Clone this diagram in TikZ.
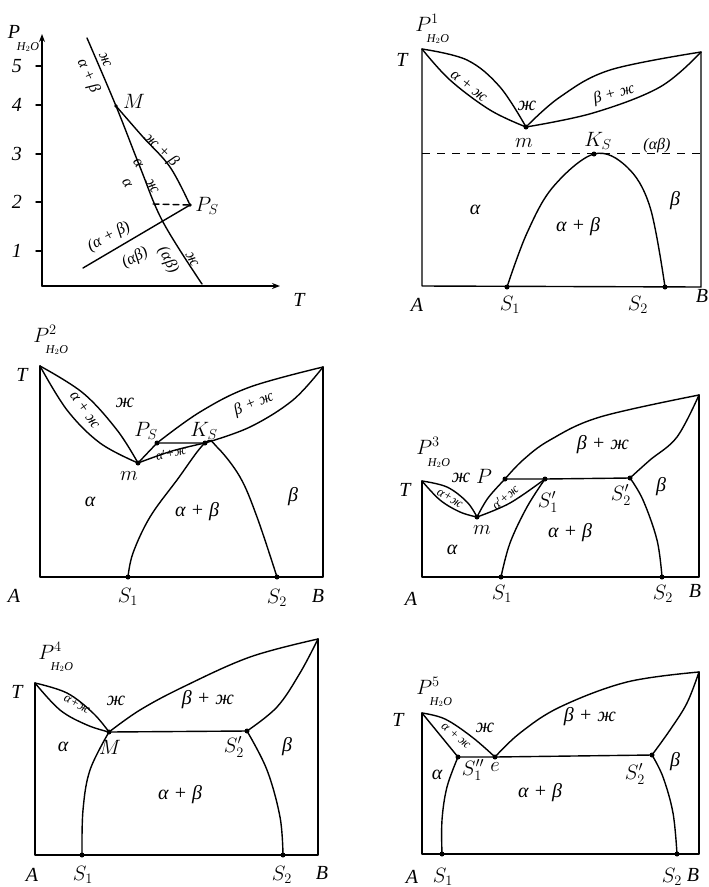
\documentclass[tikz,border=0pt]{standalone}
\usepackage{fontspec}
\setmainfont{Liberation Serif}
\usetikzlibrary{arrows.meta}
\begin{document}
\begin{tikzpicture}[x=1pt,y=-1pt,
  ln/.style={line width=1.4pt, line join=round, line cap=round},
  dotp/.style={circle, fill, inner sep=0pt, minimum size=5pt},
  lb/.style={font=\itshape\fontsize{20}{20}\selectfont, inner sep=0.5pt},
  ls/.style={font=\itshape\fontsize{16}{16}\selectfont, inner sep=0.5pt},
  lt/.style={font=\itshape\fontsize{13}{13}\selectfont, inner sep=0pt},
  sub/.style={font=\itshape\fontsize{12}{12}\selectfont, inner sep=0pt},
  arr/.style={ln, -{Stealth[length=8pt,width=6pt]}}]
\useasboundingbox (0,0) rectangle (709,887);

% ================= Panel 1 : P-T projection =================
\coordinate (O1) at (42,286);
\coordinate (Y1) at (42,34);
\coordinate (X1) at (280,286);
\draw[arr] (O1) -- (Y1);
\draw[arr] (O1) -- (X1);
\foreach \yy/\tt in {66/5,105/4,154/3,202/2,251/1}{
  \draw[ln] (36,\yy) -- (42,\yy);
  \node[lb] at (17,\yy) {\tt};
}
\node[lb] (p1) at (14,32) {P};
\node[sub] (p1s) at (28,47) {H$_2$O};
\node[lb] (t1) at (299,300) {T};
\coordinate (M1) at (116,106);
\coordinate (PS1) at (190,205);
\coordinate (top1) at (87,38);
\coordinate (bot1) at (202,284);
\coordinate (X1c) at (163,222);
\coordinate (end1) at (83,268);
\coordinate (dsh1) at (153,204);
\draw[ln] plot[smooth, tension=0.6] coordinates {(top1) (M1) (140,167) (X1c) (bot1)};
\draw[ln] plot[smooth, tension=0.6] coordinates {(M1) (143,137) (170,167) (PS1)};
\draw[ln] (PS1) -- (end1);
\draw[ln, dashed, dash pattern=on 6pt off 4pt] (dsh1) -- (PS1);
\fill (M1) circle (1.8pt);
\fill (PS1) circle (1.8pt);
\node[ls, rotate=-66] at (105,60) {ж};
\node[ls, rotate=-66] at (88,76) {α + β};
\node[lb] at (134,101) {$M$};
\node[ls, rotate=-45] at (161,150) {ж + β};
\node[ls, rotate=-60] at (138,163) {α};
\node[ls, rotate=-60] at (127,183) {α};
\node[ls, rotate=-60] at (152,186) {ж};
\node[lb] at (207,206) {$P_S$};
\node[ls, rotate=28] at (109,237) {(α + β)};
\node[ls, rotate=28] at (135,258) {(αβ)};
\node[ls, rotate=-62] at (168,260) {(αβ)};
\node[ls, rotate=-62] at (192,259) {ж};

% ================= Panel 2 : P1 =================
\coordinate (T2) at (422,49);
\coordinate (A2) at (422,286);
\coordinate (B2) at (701,287);
\coordinate (R2) at (701,52);
\coordinate (m2) at (526,127);
\coordinate (K2) at (594,154);
\coordinate (S12) at (507,287);
\coordinate (S22) at (665,287);
\draw[ln] (T2) -- (A2) -- (B2) -- (R2);
\draw[ln] plot[smooth, tension=0.6] coordinates {(T2) (467,60) (500,87) (m2)};
\draw[ln] plot[smooth, tension=0.6] coordinates {(T2) (450,80) (490,110) (m2)};
\draw[ln] plot[smooth, tension=0.6] coordinates {(m2) (560,97) (610,70) (R2)};
\draw[ln] plot[smooth, tension=0.6] coordinates {(m2) (593,113) (660,87) (R2)};
\draw[line width=1pt, dash pattern=on 8pt off 7pt] (422,153) -- (701,153);
\draw[ln] plot[smooth, tension=0.6] coordinates {(S12) (527,233) (553,187) (K2) (627,167) (650,207) (S22)};
\foreach \p in {m2,K2,S12,S22}{\node[dotp] at (\p) {};}
\node[lb] at (427,23) {$P^1$};
\node[sub] at (438,39) {H$_2$O};
\node[lb] at (402,60) {T};
\node[ls, rotate=-38] at (469,86) {α + ж};
\node[lb] at (527,106) {ж};
\node[ls, rotate=15] at (614,94) {β + ж};
\node[lb] at (524,143) {$m$};
\node[lb] at (598,141) {$K_S$};
\node[ls] at (657,146) {(αβ)};
\node[lb] at (475,210) {α};
\node[lb] at (578,227) {α + β};
\node[lb] at (675,201) {β};
\node[lb] at (417,305) {A};
\node[lb] at (510,305) {$S_1$};
\node[lb] at (638,305) {$S_2$};
\node[lb] at (702,296) {B};

% ================= Panel 3 : P2 =================
\coordinate (T3) at (40,366);
\coordinate (A3) at (40,577);
\coordinate (B3) at (323,577);
\coordinate (R3) at (323,367);
\coordinate (m3) at (138,463);
\coordinate (PS3) at (157,443);
\coordinate (K3) at (205,443);
\coordinate (S13) at (128,577);
\coordinate (S23) at (277,577);
\draw[ln] (T3) -- (A3) -- (B3) -- (R3);
\draw[ln] plot[smooth, tension=0.6] coordinates {(T3) (83,393) (117,430) (m3)};
\draw[ln] plot[smooth, tension=0.6] coordinates {(T3) (67,410) (100,443) (m3)};
\draw[ln] (m3) -- (PS3) -- (K3);
\draw[ln] plot[smooth, tension=0.6] coordinates {(PS3) (200,412) (250,387) (R3)};
\draw[ln] plot[smooth, tension=0.6] coordinates {(K3) (250,427) (293,400) (R3)};
\draw[ln] plot[smooth, tension=0.6] coordinates {(m3) (172,451) (K3)};
\draw[ln] plot[smooth, tension=0.6] coordinates {(S13) (133,553) (150,517) (177,480) (K3) (217,447) (240,477) (257,517) (S23)};
\foreach \p in {m3,PS3,K3,S13,S23}{\node[dotp] at (\p) {};}
\node[lb] at (45,334) {$P^2$};
\node[sub] at (57,350) {H$_2$O};
\node[lb] at (22,375) {T};
\node[ls, rotate=-55] at (85,410) {α + ж};
\node[lb] at (125,403) {ж};
\node[ls, rotate=22] at (254,404) {β + ж};
\node[lb] at (146,431) {$P_S$};
\node[lb] at (204,431) {$K_S$};
\node[lt, rotate=12] at (171,453) {α$'$+ж};
\node[lb] at (129,476) {$m$};
\node[lb] at (90,502) {α};
\node[lb] at (197,512) {α + β};
\node[lb] at (293,497) {β};
\node[lb] at (14,596) {A};
\node[lb] at (128,597) {$S_1$};
\node[lb] at (277,598) {$S_2$};
\node[lb] at (318,596) {B};

% ================= Panel 4 : P3 =================
\coordinate (T4) at (422,481);
\coordinate (A4) at (422,577);
\coordinate (B4) at (699,577);
\coordinate (R4) at (699,395);
\coordinate (m4) at (477,517);
\coordinate (P4) at (505,479);
\coordinate (S1p4) at (545,479);
\coordinate (S2p4) at (630,478);
\coordinate (S14) at (501,577);
\coordinate (S24) at (662,577);
\draw[ln] (T4) -- (A4) -- (B4) -- (R4);
\draw[ln] plot[smooth, tension=0.6] coordinates {(T4) (447,487) (467,502) (m4)};
\draw[ln] plot[smooth, tension=0.6] coordinates {(T4) (440,500) (460,512) (m4)};
\draw[ln] plot[smooth, tension=0.6] coordinates {(m4) (488,498) (P4)};
\draw[ln] plot[smooth, tension=0.6] coordinates {(m4) (510,503) (S1p4)};
\draw[ln] (P4) -- (S1p4) -- (S2p4);
\draw[ln] plot[smooth, tension=0.6] coordinates {(P4) (523,460) (550,440) (600,417) (R4)};
\draw[ln] plot[smooth, tension=0.6] coordinates {(S2p4) (650,460) (677,437) (R4)};
\draw[ln] plot[smooth, tension=0.6] coordinates {(S14) (510,543) (527,507) (S1p4)};
\draw[ln] plot[smooth, tension=0.6] coordinates {(S2p4) (643,500) (657,540) (S24)};
\foreach \p in {m4,P4,S1p4,S2p4,S14,S24}{\node[dotp] at (\p) {};}
\node[lb] at (428,446) {$P^3$};
\node[sub] at (439,463) {H$_2$O};
\node[lb] at (405,490) {T};
\node[lt, rotate=-30] at (450,498) {α+ж};
\node[lb] at (461,478) {ж};
\node[lb] at (484,476) {$P$};
\node[lt, rotate=42] at (505,497) {α$'$+ж};
\node[lb] at (548,502) {$S'_1$};
\node[lb] at (482,530) {$m$};
\node[lb] at (603,445) {β + ж};
\node[lb] at (661,487) {β};
\node[lb] at (621,495) {$S'_2$};
\node[lb] at (570,533) {α + β};
\node[lb] at (452,550) {α};
\node[lb] at (411,599) {A};
\node[lb] at (502,594) {$S_1$};
\node[lb] at (663,594) {$S_2$};
\node[lb] at (695,591) {B};

% ================= Panel 5 : P4 =================
\coordinate (T5) at (35,683);
\coordinate (A5) at (35,855);
\coordinate (B5) at (318,855);
\coordinate (R5) at (318,639);
\coordinate (M5) at (109,732);
\coordinate (S2p5) at (247,731);
\coordinate (S15) at (82,855);
\coordinate (S25) at (283,855);
\draw[ln] (T5) -- (A5) -- (B5) -- (R5);
\draw[ln] plot[smooth, tension=0.6] coordinates {(T5) (67,693) (93,713) (M5)};
\draw[ln] plot[smooth, tension=0.6] coordinates {(T5) (60,710) (87,725) (M5)};
\draw[ln] (M5) -- (S2p5);
\draw[ln] plot[smooth, tension=0.6] coordinates {(M5) (140,710) (183,687) (250,657) (R5)};
\draw[ln] plot[smooth, tension=0.6] coordinates {(S2p5) (277,707) (300,673) (R5)};
\draw[ln] plot[smooth, tension=0.6] coordinates {(S15) (83,810) (90,770) (M5)};
\draw[ln] plot[smooth, tension=0.6] coordinates {(S2p5) (267,770) (280,817) (S25)};
\foreach \p in {M5,S2p5,S15,S25}{\node[dotp] at (\p) {};}
\node[lb] at (50,651) {$P^4$};
\node[sub] at (62,667) {H$_2$O};
\node[lb] at (17,692) {T};
\node[lt, rotate=-27] at (77,704) {α+ж};
\node[lb] at (116,701) {ж};
\node[lb] at (208,700) {β + ж};
\node[lb] at (110,747) {$M$};
\node[lb] at (234,747) {$S'_2$};
\node[lb] at (63,747) {α};
\node[lb] at (287,747) {β};
\node[lb] at (180,795) {α + β};
\node[lb] at (32,875) {A};
\node[lb] at (83,875) {$S_1$};
\node[lb] at (282,875) {$S_2$};
\node[lb] at (322,873) {B};

% ================= Panel 6 : P5 =================
\coordinate (T6) at (422,713);
\coordinate (A6) at (422,854);
\coordinate (B6) at (699,854);
\coordinate (R6) at (699,672);
\coordinate (S1pp6) at (458,757);
\coordinate (e6) at (495,757);
\coordinate (S2p6) at (652,755);
\coordinate (S16) at (442,854);
\coordinate (S26) at (677,854);
\draw[ln] (T6) -- (A6) -- (B6) -- (R6);
\draw[ln] plot[smooth, tension=0.6] coordinates {(T6) (445,719) (472,737) (e6)};
\draw[ln] plot[smooth, tension=0.6] coordinates {(T6) (440,735) (S1pp6)};
\draw[ln] (S1pp6) -- (e6) -- (S2p6);
\draw[ln] plot[smooth, tension=0.6] coordinates {(e6) (520,733) (560,707) (627,682) (R6)};
\draw[ln] plot[smooth, tension=0.6] coordinates {(S2p6) (670,730) (687,703) (R6)};
\draw[ln] plot[smooth, tension=0.6] coordinates {(S16) (442,820) (447,787) (S1pp6)};
\draw[ln] plot[smooth, tension=0.6] coordinates {(S2p6) (663,777) (673,813) (S26)};
\foreach \p in {S1pp6,e6,S2p6,S16,S26}{\node[dotp] at (\p) {};}
\node[lb] at (428,686) {$P^5$};
\node[sub] at (441,702) {H$_2$O};
\node[lb] at (398,720) {T};
\node[lt, rotate=-40] at (456,736) {α + ж};
\node[lb] at (485,728) {ж};
\node[lb] at (590,717) {β + ж};
\node[lb] at (473,770) {$S''_1$};
\node[lb] at (495,767) {$e$};
\node[lb] at (437,775) {α};
\node[lb] at (635,774) {$S'_2$};
\node[lb] at (675,762) {β};
\node[lb] at (540,793) {α + β};
\node[lb] at (412,877) {A};
\node[lb] at (443,877) {$S_1$};
\node[lb] at (672,877) {$S_2$};
\node[lb] at (693,875) {B};
\end{tikzpicture}
\end{document}
